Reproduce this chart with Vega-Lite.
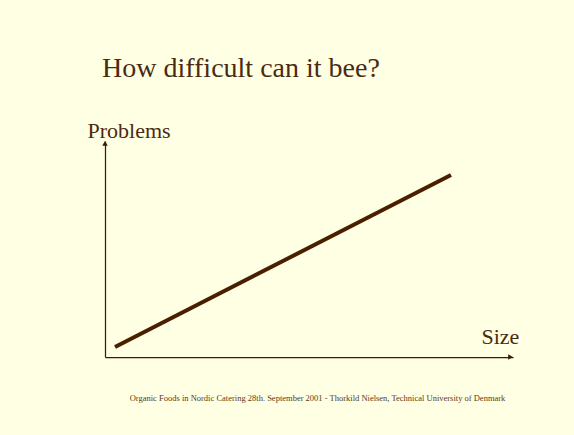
{
  "$schema": "https://vega.github.io/schema/vega-lite/v6.json",
  "width": 408,
  "height": 216,
  "autosize": {"type": "none"},
  "padding": {"left": 105, "top": 141, "right": 61, "bottom": 78},
  "background": "#FFFFE3",
  "config": {"view": {"stroke": null}, "font": "Liberation Serif"},
  "title": {
    "text": "How difficult can it bee?",
    "anchor": "start",
    "frame": "group",
    "font": "Liberation Serif",
    "fontSize": 28,
    "fontWeight": "normal",
    "color": "#4B2A12",
    "dx": -3,
    "offset": 36
  },
  "datasets": {
    "trend": [
      {"Size": 2.45, "Problems": 4.6},
      {"Size": 84.8, "Problems": 84.3}
    ],
    "yarrow": [{"Size": 0, "Problems": 98.9}],
    "xarrow": [{"Size": 99.4, "Problems": 0}]
  },
  "layer": [
    {
      "data": {"name": "trend"},
      "mark": {"type": "line", "color": "#4A1F00", "strokeWidth": 4, "strokeCap": "butt"},
      "encoding": {
        "x": {
          "field": "Size", "type": "quantitative",
          "scale": {"domain": [0, 100], "nice": false, "zero": false},
          "axis": {
            "orient": "bottom",
            "title": "Size", "domain": true, "domainColor": "#3C1A05", "domainWidth": 1.25,
            "ticks": false, "labels": false, "grid": false,
            "titleFont": "Liberation Serif", "titleFontSize": 22, "titleFontWeight": "normal",
            "titleColor": "#4B2A12", "titleAlign": "left", "titleBaseline": "alphabetic",
            "titleAnchor": "start", "titleX": 376, "titleY": -14
          }
        },
        "y": {
          "field": "Problems", "type": "quantitative",
          "scale": {"domain": [0, 100], "nice": false, "zero": false},
          "axis": {
            "orient": "left",
            "title": "Problems", "domain": true, "domainColor": "#3C1A05", "domainWidth": 1.25,
            "ticks": false, "labels": false, "grid": false,
            "titleFont": "Liberation Serif", "titleFontSize": 22, "titleFontWeight": "normal",
            "titleColor": "#4B2A12", "titleAngle": 0, "titleAlign": "left", "titleBaseline": "alphabetic",
            "titleAnchor": "start", "titleX": -18, "titleY": -4
          }
        }
      }
    },
    {
      "data": {"name": "yarrow"},
      "mark": {"type": "point", "shape": "triangle-up", "filled": true, "size": 30, "color": "#3C1A05", "opacity": 1},
      "encoding": {
        "x": {
          "field": "Size", "type": "quantitative",
          "axis": {
            "orient": "bottom",
            "title": "Organic Foods in Nordic Catering 28th. September 2001  - Thorkild Nielsen, Technical University of Denmark",
            "domain": false, "ticks": false, "labels": false, "grid": false,
            "titleFont": "Liberation Serif", "titleFontSize": 8.5, "titleFontWeight": "normal",
            "titleColor": "#5A3A20", "titleAlign": "center", "titleBaseline": "alphabetic",
            "titleX": 212, "titleY": 43
          }
        },
        "y": {"field": "Problems", "type": "quantitative", "axis": null}
      }
    },
    {
      "data": {"name": "xarrow"},
      "mark": {"type": "point", "shape": "triangle-right", "filled": true, "size": 30, "color": "#3C1A05", "opacity": 1},
      "encoding": {
        "x": {"field": "Size", "type": "quantitative", "axis": null},
        "y": {"field": "Problems", "type": "quantitative", "axis": null}
      }
    }
  ],
  "resolve": {"axis": {"x": "independent", "y": "independent"}}
}
